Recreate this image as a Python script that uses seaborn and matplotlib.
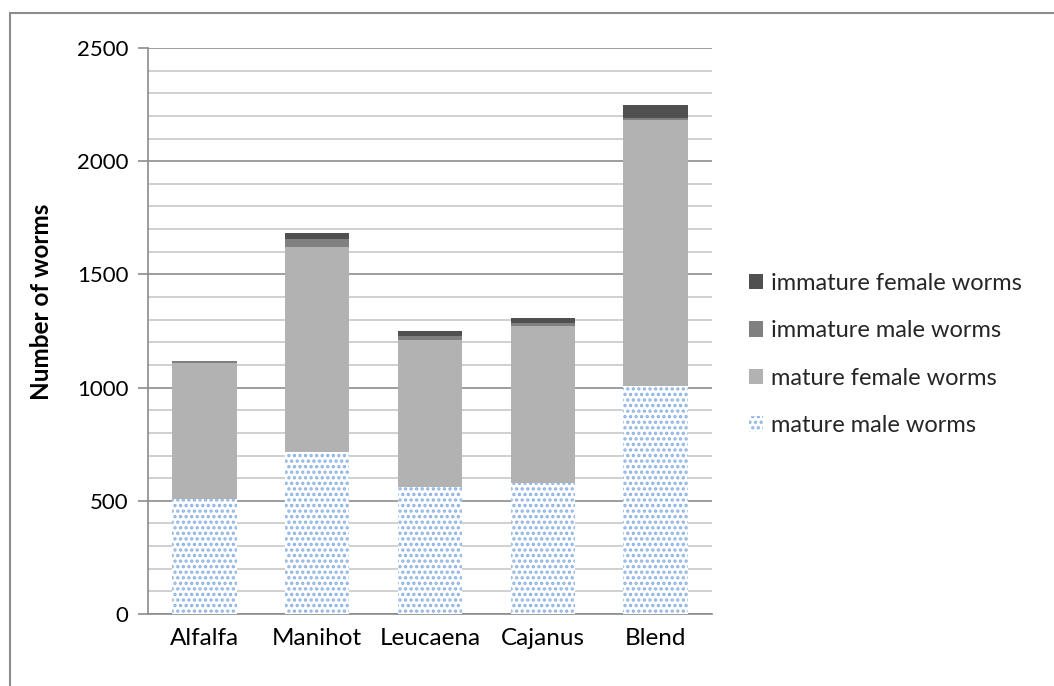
import numpy as np
import pandas as pd
import matplotlib
matplotlib.use("Agg")
import matplotlib.pyplot as plt
import seaborn as sns
from matplotlib.patches import Patch, Rectangle

categories = ["Alfalfa", "Manihot", "Leucaena", "Cajanus", "Blend"]
mature_male = [510, 715, 560, 580, 1005]
mature_female = [600, 907, 652, 690, 1175]
immature_male = [6, 35, 18, 16, 10]
immature_female = [3, 25, 18, 22, 58]
series_names = ["mature male worms", "mature female worms",
                "immature male worms", "immature female worms"]
y_ticks = [0, 500, 1000, 1500, 2000, 2500]

sns.set_theme(style="white")
plt.rcParams['font.family'] = ['Lato', 'DejaVu Sans']
plt.rcParams['hatch.linewidth'] = 1.6

fig = plt.figure(figsize=(10.54, 6.86), dpi=100)
ax = fig.add_axes([0.1404, 0.105, 0.5351, 0.825])

# outer frame (only left and top edges visible in the picture)
fig.patches.append(Rectangle((10/1054, -0.2), 1.3, (686 - 13)/686 + 0.2, transform=fig.transFigure,
                             fill=False, edgecolor="#8c8c8c", linewidth=1.5))

layers = [mature_male, mature_female, immature_male, immature_female]
cums = np.cumsum(np.array(layers, dtype=float), axis=0)
colors = ["white", "#b2b2b2", "#808080", "#505050"]

df = pd.DataFrame({"cat": categories})
for i in [3, 2, 1]:
    df["v"] = cums[i]
    sns.barplot(data=df, x="cat", y="v", color=colors[i], width=0.57,
                saturation=1, linewidth=0, ax=ax, zorder=3)
df["v"] = cums[0]
n_before = len(ax.patches)
sns.barplot(data=df, x="cat", y="v", color="white", width=0.57,
            saturation=1, linewidth=0, ax=ax, zorder=3)
for p in ax.patches[n_before:]:
    p.set_hatch("...")
    p.set_edgecolor("#8db3e2")
    p.set_linewidth(0)

ax.set_ylim(0, 2500)
ax.set_xlim(-0.5, 4.5)
ax.set_yticks(y_ticks)
ax.set_yticks(np.arange(0, 2501, 100), minor=True)
ax.grid(axis="y", which="minor", color="#c8c8c8", linewidth=1.2, zorder=0)
ax.grid(axis="y", which="major", color="#8c8c8c", linewidth=1.2, zorder=0)
ax.set_axisbelow(True)
for s in ["top", "right"]:
    ax.spines[s].set_visible(False)
ax.spines["left"].set_color("#8c8c8c")
ax.spines["bottom"].set_color("#8c8c8c")
ax.spines["left"].set_linewidth(1.2)
ax.spines["bottom"].set_linewidth(1.2)
ax.tick_params(axis="y", which="major", length=7, color="#8c8c8c", width=1.2,
               labelsize=16, pad=7, left=True, labelcolor="black")
ax.tick_params(axis="y", which="minor", length=0)
ax.tick_params(axis="x", length=0, labelsize=17.5, pad=10, labelcolor="black")
ax.set_xlabel("")
ax.set_ylabel("Number of worms", fontsize=17.5, fontweight="bold", color="black")
ax.yaxis.set_label_coords(-0.168, 0.551)

handles = [Patch(facecolor="#505050", edgecolor="none"),
           Patch(facecolor="#808080", edgecolor="none"),
           Patch(facecolor="#b2b2b2", edgecolor="none"),
           Patch(facecolor="white", edgecolor="#8db3e2", hatch="...", linewidth=0)]
labels = ["immature female worms", "immature male worms",
          "mature female worms", "mature male worms"]
leg = fig.legend(handles, labels, loc="center left", bbox_to_anchor=(0.690, 0.483),
                 frameon=False, fontsize=17, handlelength=0.62, handleheight=0.62,
                 handletextpad=0.35, labelspacing=1.12)

fig.savefig("out.png", dpi=100)
